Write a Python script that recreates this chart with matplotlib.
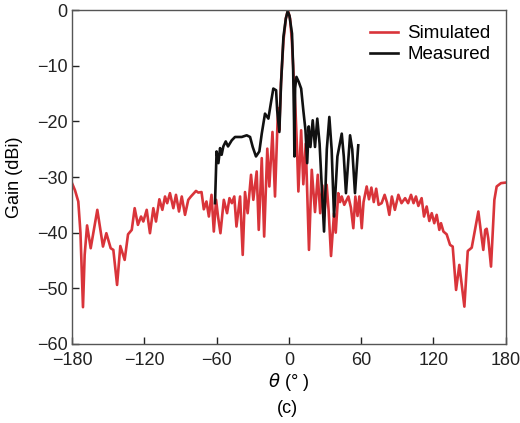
import matplotlib
matplotlib.use("Agg")
import matplotlib.pyplot as plt

plt.rcParams['font.family'] = ['Liberation Sans', 'DejaVu Sans']

sim_theta = [-180, -177.5, -174.8, -173, -170.9, -169.5, -167.5, -164.5, -159.0, -154.3, -151.5,
             -147.9, -145.7, -142.6, -139.9, -136.3, -133.5, -130.4, -128.0, -125.3, -122.7, -120.8,
             -118, -115.3, -112.5, -110.3, -107.5, -105, -102.8, -101, -98.7, -95.9, -93.7, -91.2,
             -88.9, -86.2, -83.5, -81.3, -77.1, -75.2, -72.5, -70.6, -68.4, -66.4, -64.2, -62.3,
             -60.4, -58.8, -56.8, -54, -51.3, -49.3, -47.3, -45.3, -43.5, -40.5, -38.3, -36.4,
             -34.2, -31.4, -29.5, -26.7, -25.0, -22.5, -20.5, -17.9, -16.2, -13.6, -11.5, -9.0,
             -8.0, -6.5, -4.5, -2.5, -0.8, 1.0, 2.5, 4.0, 5.5, 6.8, 7.9, 10.2, 12.0, 14.0, 16.7,
             19.0, 21.7, 24.0, 26.0, 27.8, 29.3, 31.4, 33.0, 35.0, 37.5, 38.9, 41.0, 42.5, 43.9,
             46.0, 49.4, 51.5, 53.5, 55.2, 57.0, 58.5, 60.5, 62.0, 64.6, 66.5, 68.5, 70.5, 72.5,
             74.5, 77.0, 79.5, 81.5, 83.4, 85.5, 88.0, 90.9, 93.5, 96.5, 99.0, 101.4, 103.5, 105.5,
             107.5, 110.2, 112.2, 114.4, 116.6, 118.6, 120.7, 122.7, 124.9, 126.3, 128.3, 131.0,
             133.8, 136.0, 138.8, 141.5, 145.7, 148.5, 151.8, 157.3, 159.5, 161.4, 163.0, 164.2,
             165.5, 167.8, 169.5, 170.6, 172.5, 176.1, 180]
sim_gain = [-31.1, -32.4, -34.4, -40, -53.4, -44, -38.7, -42.8, -35.9, -42.5, -40.1,
            -42.8, -43.1, -49.4, -42.4, -44.9, -40.3, -39.5, -35.6, -38.6, -37.1, -38.0,
            -35.9, -40.1, -35.6, -38.0, -34.0, -35.9, -33.5, -34.7, -32.9, -35.6, -33.2, -36.2,
            -33.5, -36.8, -34.1, -33.5, -32.5, -32.8, -32.7, -35.8, -34.4, -37.1, -33.2, -39.8,
            -34.1, -37.1, -40.1, -34.1, -36.5, -33.8, -34.7, -33.5, -38.9, -33.5, -44.0, -32.7,
            -36.5, -29.6, -34.1, -29.0, -39.5, -26.6, -40.7, -24.9, -31.7, -21.9, -33.5, -17.6,
            -21.6, -13.0, -5.5, -1.5, 0.0, -1.5, -5.5, -12.0, -18.0, -25.0, -32.6, -21.6, -31.3,
            -24.0, -43.1, -28.7, -36.3, -29.6, -36.5, -31.5, -37.0, -31.4, -36.0, -44.2, -36.5,
            -40.0, -32.9, -34.5, -33.5, -35.0, -33.5, -35.5, -39.2, -33.5, -37.0, -33.5, -39.2,
            -34.5, -31.7, -34.0, -31.9, -34.5, -32.1, -35.0, -34.7, -33.2, -34.6, -36.8, -33.5,
            -35.9, -33.2, -34.7, -33.8, -34.7, -33.2, -34.7, -33.5, -35.2, -33.8, -37.1, -35.3,
            -37.9, -36.5, -38.3, -36.8, -39.5, -38.3, -39.8, -40.3, -42.2, -42.5, -50.3, -45.8,
            -53.3, -43.3, -42.7, -36.2, -40.0, -43.1, -39.5, -39.3, -41.0, -46.1, -39.0, -34.1,
            -31.7, -31.1, -31.0]

meas_theta = [-61.3, -60.0, -58.5, -57.1, -55.8, -54.4, -52.4, -50.5, -47.4, -44.7, -39.1,
              -35.0, -32.2, -30.0, -27.3, -24.5, -22.5, -19.8, -17.0, -15.0, -12.9, -10.6, -9.7,
              -7.9, -6.5, -4.5, -2.5, -1.0, 0.5, 2.6, 3.5, 4.3, 4.6, 5.2, 6.3, 8.2, 10.2, 12.0,
              13.8, 15.2, 16.5, 17.9, 19.8, 21.7, 23.6, 25.5, 29.2, 31.5, 33.6, 35.5, 37.5, 40.3,
              43.9, 45.6, 47.4, 50.8, 52.6, 54.9, 57.6]
meas_gain = [-34.7, -25.4, -27.5, -24.8, -26.0, -24.5, -23.6, -24.5, -23.4, -22.8, -22.8,
             -22.5, -22.8, -24.6, -26.3, -25.4, -22.2, -18.6, -19.5, -16.8, -14.1, -14.4, -18.0,
             -21.9, -13.2, -4.8, -1.5, -0.2, -1.0, -4.2, -10.0, -20.0, -26.3, -14.0, -12.0, -12.9,
             -14.1, -18.0, -21.6, -27.5, -20.9, -24.6, -19.8, -24.6, -19.5, -24.0, -39.8, -25.0,
             -19.2, -25.0, -37.1, -26.3, -22.2, -26.3, -32.9, -22.5, -25.0, -32.9, -24.3]

x_ticks = [-180, -120, -60, 0, 60, 120, 180]
y_ticks = [-60, -50, -40, -30, -20, -10, 0]

fig = plt.figure(figsize=(5.2, 4.23), dpi=100)
ax = fig.add_axes([0.1385, 0.187, 0.834, 0.789])

ax.plot(sim_theta, sim_gain, color='#d9343a', lw=1.9, label='Simulated',
        solid_joinstyle='round')
ax.plot(meas_theta, meas_gain, color='#111111', lw=1.9, label='Measured',
        solid_joinstyle='round')

ax.set_xlim(-180, 180)
ax.set_ylim(-60, 0)
ax.set_xticks(x_ticks)
ax.set_yticks(y_ticks)
ax.tick_params(direction='in', length=5, width=1, labelsize=13, colors='#222222')
ax.tick_params(axis='x', pad=6)
ax.tick_params(axis='y', pad=3)
for s in ax.spines.values():
    s.set_color('#555555')
    s.set_linewidth(1.0)

ax.set_xlabel(r'$\theta$ (° )', fontsize=13, labelpad=1)
ax.set_ylabel('Gain (dBi)', fontsize=13, labelpad=10)

leg = ax.legend(loc='upper right', frameon=False, fontsize=13.5, handlelength=1.5,
                handletextpad=0.5, labelspacing=0.2, borderaxespad=0.4)

fig.text(0.5525, 0.035, '(c)', ha='center', va='center', fontsize=13)

fig.savefig('out.png', dpi=100)
